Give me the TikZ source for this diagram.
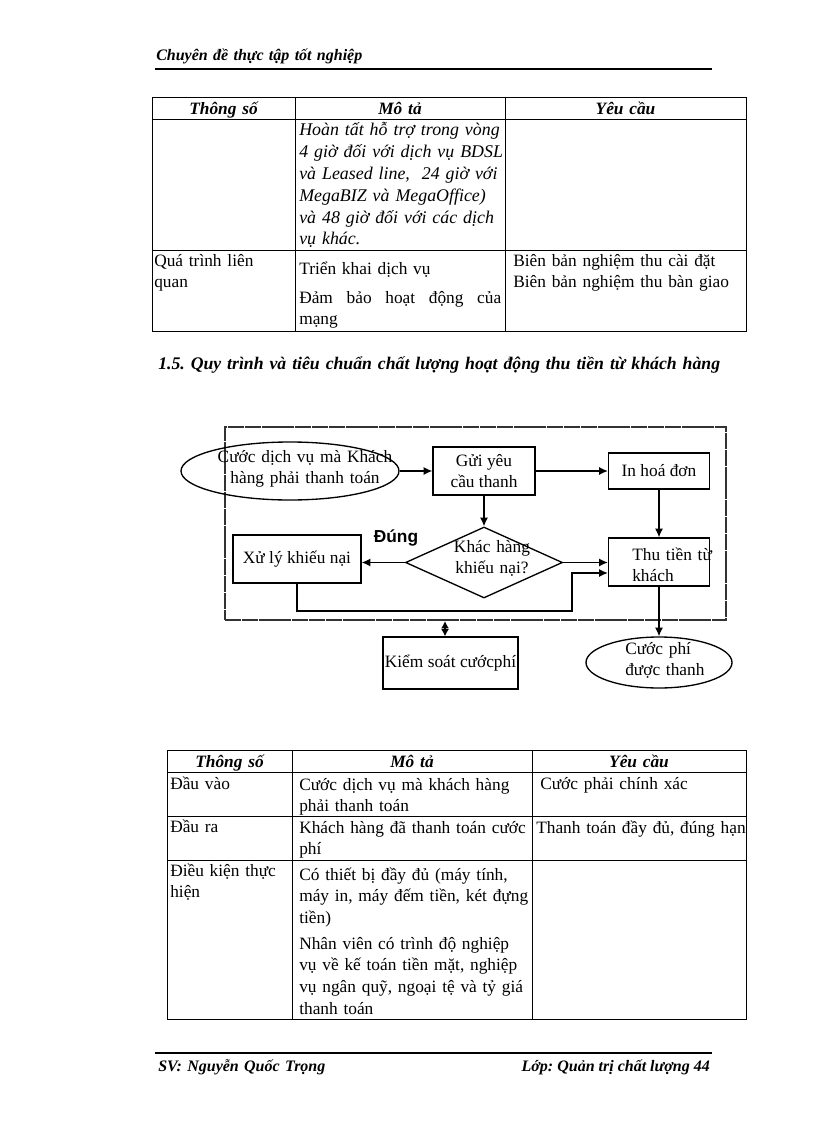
\documentclass[tikz,border=0pt]{standalone}
\usepackage{fontspec}
\setmainfont{Liberation Serif}
\newfontfamily\arialf{Liberation Sans}
\usetikzlibrary{shapes.geometric,arrows.meta,positioning}
\frenchspacing

\def\pxu{0.75pt}

\tikzset{
  txt/.style={inner sep=0pt, anchor=base west, text width=#1, align=left,
    font=\fontsize{13}{16.35}\selectfont},
  txt/.default=240pt,
  ctxt/.style={inner sep=0pt, anchor=base, text width=#1, align=center,
    font=\fontsize{13}{16.35}\selectfont},
  ctxt/.default=160pt,
  hd/.style={ctxt, font=\fontsize{13}{16.35}\selectfont\bfseries\itshape},
  flowfont/.style={font=\fontsize{13}{15.9}\selectfont},
  proc/.style={draw, rectangle, line width=1pt, inner sep=0pt, align=center, flowfont},
  term/.style={draw, ellipse, line width=1pt, inner sep=0pt},
  dec/.style={draw, diamond, line width=1pt, inner sep=0pt},
  tip/.style={-{Latex[length=6.5pt,width=6pt]}},
  flow/.style={line width=1pt, tip},
  tabline/.style={line width=0.75pt},
  headrule/.style={line width=2.2pt},
}

\begin{document}
\begin{tikzpicture}[x=0.75pt, y=-0.75pt]
\useasboundingbox (0,0) rectangle (816,1123);

% header
\node[txt, font=\fontsize{12}{14}\selectfont\bfseries\itshape] (hdr) at (156,61) {Chuyên đề thực tập tốt nghiệp};
\draw[headrule] (155,69) -- (712,69);

% first table
\draw[tabline] (152,98) rectangle (746,331);
\draw[tabline] (152,120) -- (746,120) (152,250) -- (746,250);
\draw[tabline] (295,98) -- (295,331) (505,98) -- (505,331);
\node[hd] (ta) at (223.5,115) {Thông số};
\node[hd] (tb) at (400,115) {Mô tả};
\node[hd] (tc) at (625.5,115) {Yêu cầu};
\node[txt, font=\fontsize{13.4}{16.35}\selectfont\itshape] (hotro) at (299,136)
  {Hoàn tất hỗ trợ trong vòng\\4 giờ đối với dịch vụ BDSL\\và Leased line,~ 24 giờ với\\MegaBIZ và MegaOffice)\\và 48 giờ đối với các dịch\\vụ khác.};
\node[txt] (qtlq) at (154,266) {Quá trình liên\\quan};
\node[txt] (trienkhai) at (299,274) {Triển khai dịch vụ};
\node[txt] (baodam) at (299,303) {\hbox to 151.5pt{Đảm\hfil bảo\hfil hoạt\hfil động\hfil của}\\mạng};
\node[txt] (bienban) at (513,266) {Biên bản nghiệm thu cài đặt\\Biên bản nghiệm thu bàn giao};

% section title
\node[txt=440pt, font=\fontsize{13.3}{16.35}\selectfont\bfseries\itshape] (muc) at (158,369)
  {1.5. Quy trình và tiêu chuẩn chất lượng hoạt động thu tiền từ khách hàng};

% flow chart
\node[draw, line width=1.6pt, dash pattern=on 12pt off 0.6pt, black!80, inner sep=0pt,
  minimum width=501*\pxu, minimum height=193*\pxu] (khung) at (475.5,523.5) {};
\node[term, minimum width=218*\pxu, minimum height=58*\pxu] (cuoc) at (290,471) {};
\node[ctxt, flowfont] (cuocT) at (305,462) {Cước dịch vụ mà Khách\\hàng phải thanh toán};
\node[proc, minimum width=102*\pxu, minimum height=48*\pxu] (guiyc) at (484,471) {Gửi yêu\\cầu thanh};
\node[proc, minimum width=101*\pxu, minimum height=36*\pxu] (hoadon) at (659,471) {In hoá đơn};
\node[dec, minimum width=157*\pxu, minimum height=71*\pxu] (khieunai) at (484,562.5) {};
\node[ctxt, flowfont] (khieunaiT) at (492,552) {Khác hàng\\khiếu nại?};
\node[proc, minimum width=101*\pxu, minimum height=48*\pxu] (thutien) at (659,562) {};
\node[txt, flowfont] (thutienT) at (632,560) {Thu tiền từ\\khách};
\node[proc, minimum width=128*\pxu, minimum height=48*\pxu] (xuly) at (297,559) {Xử lý khiếu nại};
\node[inner sep=0pt, font={\fontsize{13}{15}\arialf\bfseries}] (dung) at (396,538) {Đúng};
\node[proc, minimum width=135*\pxu, minimum height=52*\pxu] (kiemsoat) at (450.5,663) {Kiểm soát cướcphí};
\node[term, minimum width=146*\pxu, minimum height=51*\pxu] (cuocphi) at (659,662.5) {};
\node[txt, flowfont] (cuocphiT) at (625,654) {Cước phí\\được thanh};

\coordinate (vong) at (572,611);
\coordinate (ksx) at (445,0);
\draw[flow] (cuoc) -- (guiyc);
\draw[flow] (guiyc) -- (hoadon);
\draw[flow] (hoadon) -- (thutien);
\draw[flow] (guiyc) -- (khieunai);
\draw[flow] (khieunai.west) -- (khieunai.west -| xuly.east);
\draw[flow] (khieunai.east) -- (khieunai.east -| thutien.west);
\draw[flow] (xuly.south) |- (vong) |- ([yshift=-8.25pt]thutien.west);
\draw[line width=1pt, {Latex[length=5.5pt,width=6pt]}-{Latex[length=5.5pt,width=6pt]}]
  (khung.south -| ksx) -- (kiemsoat.north -| ksx);
\draw[flow] (thutien) -- (cuocphi);

% second table
\draw[tabline] (167,750) rectangle (746,1019);
\draw[tabline] (167,772) -- (746,772) (167,816) -- (746,816) (167,860) -- (746,860);
\draw[tabline] (292,750) -- (292,1019) (532,750) -- (532,1019);
\node[hd] (sa) at (229.5,767) {Thông số};
\node[hd] (sb) at (412,767) {Mô tả};
\node[hd] (sc) at (639,767) {Yêu cầu};
\node[txt] (dauvao) at (170,789) {Đầu vào};
\node[txt] (dauvaoM) at (299,790) {Cước dịch vụ mà khách hàng\\phải thanh toán};
\node[txt] (dauvaoY) at (540,789) {Cước phải chính xác};
\node[txt] (daura) at (170,832) {Đầu ra};
\node[txt] (dauraM) at (299,833) {Khách hàng đã thanh toán cước\\phí};
\node[txt] (dauraY) at (536,833) {Thanh toán đầy đủ, đúng hạn};
\node[txt] (dieukien) at (170,876) {Điều kiện thực\\hiện};
\node[txt] (thietbi) at (299,880) {Có thiết bị đầy đủ (máy tính,\\máy in, máy đếm tiền, két đựng\\tiền)};
\node[txt] (nhanvien) at (299,949) {Nhân viên có trình độ nghiệp\\vụ về kế toán tiền mặt, nghiệp\\vụ ngân quỹ, ngoại tệ và tỷ giá\\thanh toán};

% footer
\draw[headrule] (155,1053) -- (712,1053);
\node[txt, font=\fontsize{12}{14}\selectfont\bfseries\itshape] (sv) at (158,1071) {SV: Nguyễn Quốc Trọng};
\node[inner sep=0pt, anchor=base east, font=\fontsize{12}{14}\selectfont\bfseries\itshape] (lop) at (710,1071) {Lớp: Quản trị chất lượng 44};
\end{tikzpicture}
\end{document}
